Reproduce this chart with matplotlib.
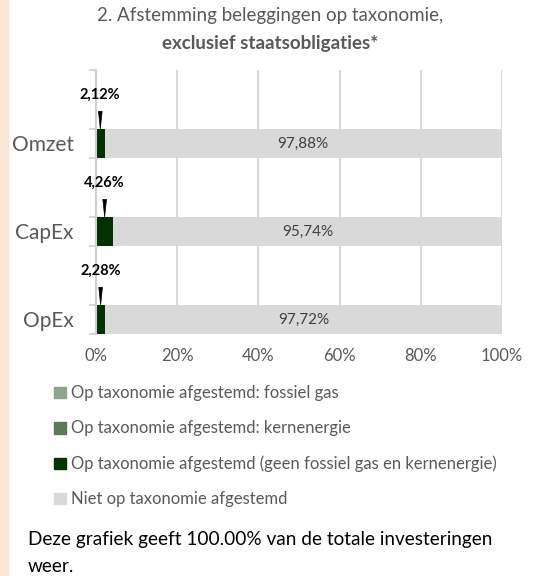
import matplotlib
matplotlib.use('Agg')
import numpy as np
import matplotlib.pyplot as plt
from matplotlib.patches import Rectangle, Patch

plt.rcParams['font.family'] = ['Lato', 'DejaVu Sans']

# Data (bottom to top: OpEx, CapEx, Omzet)
categories = ['OpEx', 'CapEx', 'Omzet']
fossiel_gas = [0.0, 0.0, 0.0]
kernenergie = [0.0, 0.0, 0.0]
afgestemd = [2.28, 4.26, 2.12]
niet_afgestemd = [97.72, 95.74, 97.88]
xticks = [0, 20, 40, 60, 80, 100]
legend_labels = ['Op taxonomie afgestemd: fossiel gas',
                 'Op taxonomie afgestemd: kernenergie',
                 'Op taxonomie afgestemd (geen fossiel gas en kernenergie)',
                 'Niet op taxonomie afgestemd']
colors = ['#8DA58D', '#5A7A5A', '#003300', '#D9D9D9']

grey = '#595959'

fig = plt.figure(figsize=(5.35, 5.76), dpi=100)
fig.patches.append(Rectangle((0, 0), 8 / 535, 1, transform=fig.transFigure,
                             color='#FBE6D6', zorder=0))

ax = fig.add_axes([96 / 535, 1 - 334 / 576, 406 / 535, 264 / 576])

ypos = np.arange(len(categories))
h = 0.33
left = np.zeros(len(categories))
for vals, c in zip([fossiel_gas, kernenergie, afgestemd, niet_afgestemd], colors):
    ax.barh(ypos, vals, height=h, left=left, align='edge', color=c, zorder=2)
    left = left + np.array(vals)

# labels inside grey bars
for y, a, n in zip(ypos, afgestemd, niet_afgestemd):
    ax.text(a + n / 2, y + h / 2, f'{n:.2f}%'.replace('.', ','), ha='center', va='center',
            fontsize=11, color='#404040', zorder=3)
    # callout label for small aligned part
    ax.annotate(f'{a:.2f}%'.replace('.', ','), xy=(a / 2, y + h), xytext=(a / 2, y + 0.72),
                ha='center', va='center', fontsize=10.5, fontweight='bold', color='black',
                arrowprops=dict(arrowstyle='wedge,tail_width=0.25', color='black',
                                shrinkA=5, shrinkB=0, lw=0.5), zorder=4)

ax.set_xlim(0, 100)
ax.set_ylim(0, 3)
ax.set_xticks(xticks)
ax.set_xticklabels([f'{t}%' for t in xticks], fontsize=12, color=grey)
ax.tick_params(axis='x', length=0, pad=10)

bounds = []
for y in ypos:
    bounds += [y, y + h]
bounds.append(3)
ax.set_yticks(bounds)
ax.set_yticklabels([])
ax.tick_params(axis='y', which='major', length=5, color='#D0D0D0', width=1.2)
ax.set_yticks(ypos + h / 2, minor=True)
ax.set_yticklabels(categories, minor=True, fontsize=15, color=grey)
ax.tick_params(axis='y', which='minor', length=0, pad=16)

ax.grid(axis='x', color='#D9D9D9', lw=1.5, zorder=0)
for s in ['top', 'right', 'bottom']:
    ax.spines[s].set_visible(False)
ax.spines['left'].set_color('#D0D0D0')
ax.spines['left'].set_linewidth(1.5)

fig.text(0.505, 1 - 16 / 576, '2. Afstemming beleggingen op taxonomie,', ha='center',
         va='center', fontsize=13.5, color=grey)
fig.text(0.505, 1 - 43 / 576, 'exclusief staatsobligaties*', ha='center', va='center',
         fontsize=13.5, fontweight='bold', color=grey)

handles = [Patch(color=c) for c in colors]
leg = fig.legend(handles, legend_labels, loc='upper left', bbox_to_anchor=(46 / 535, 1 - 377 / 576),
                 frameon=False, fontsize=12, handlelength=0.7, handleheight=0.7,
                 handletextpad=0.3, labelspacing=1.15, borderpad=0)
for t in leg.get_texts():
    t.set_color(grey)

fig.text(28 / 535, 1 - 540 / 576, 'Deze grafiek geeft 100.00% van de totale investeringen',
         ha='left', va='center', fontsize=13.7, color='black')
fig.text(28 / 535, 1 - 566 / 576, 'weer.', ha='left', va='center', fontsize=13.7, color='black')

fig.savefig('out.png', dpi=100)
